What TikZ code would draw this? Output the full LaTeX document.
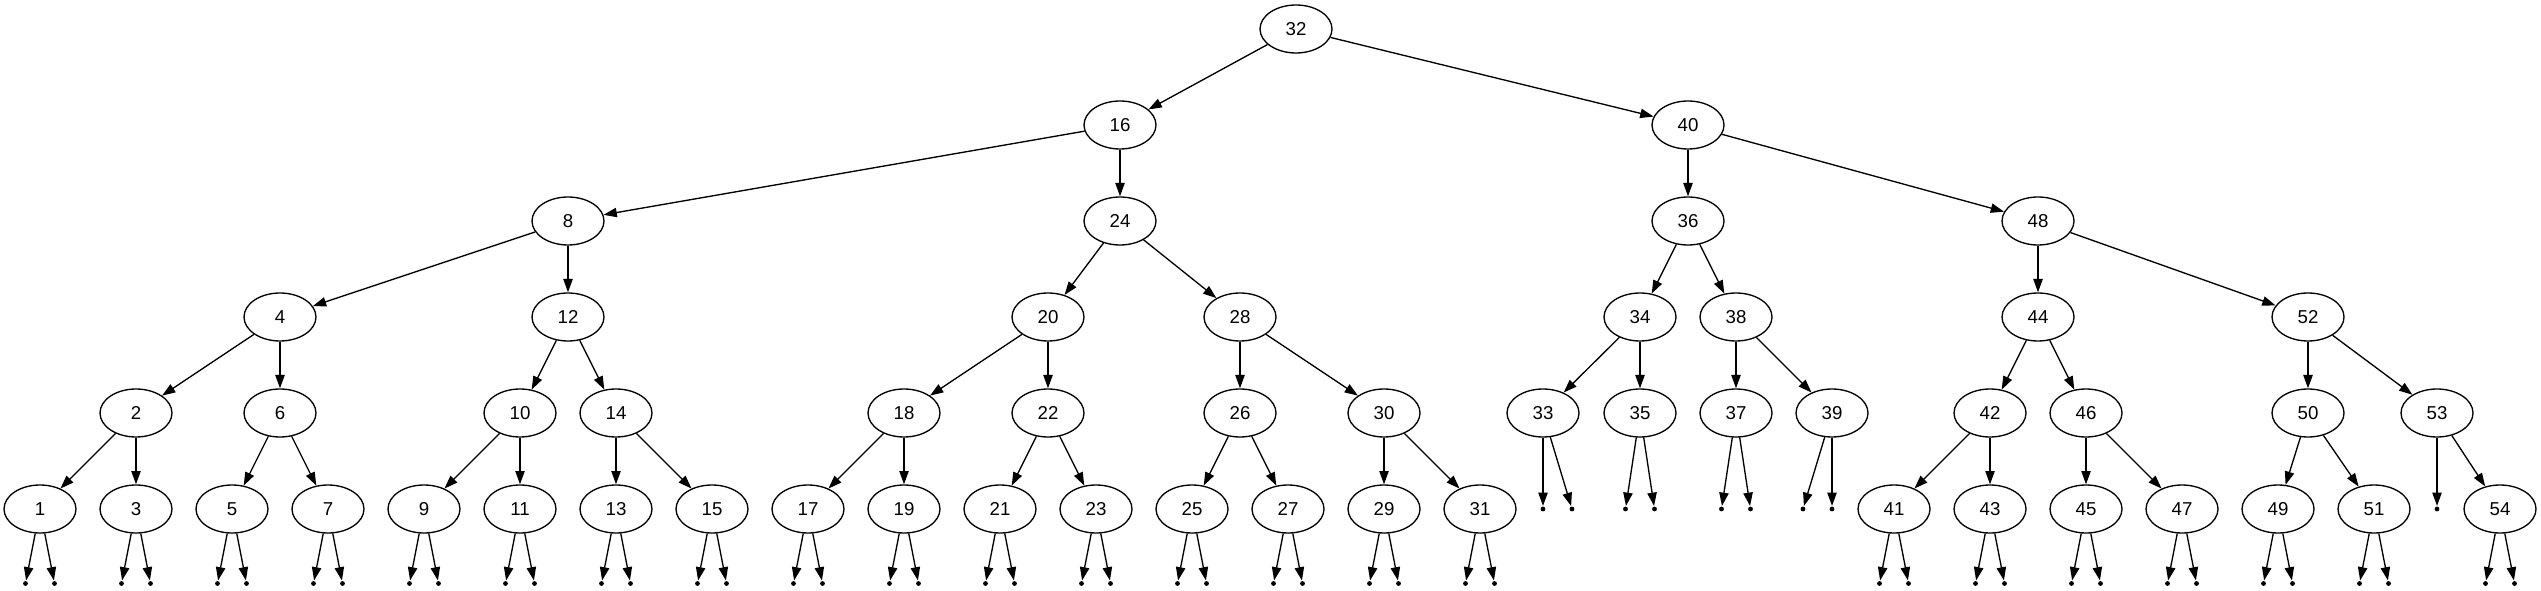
\documentclass[tikz,border=0pt]{standalone}
\usepackage{fontspec}
\setmainfont{Liberation Sans}
\usepackage{tikz}
\usetikzlibrary{arrows.meta}
\usetikzlibrary{shapes}

\begin{document}
\begin{tikzpicture}[->, >={Triangle[length=10pt, width=7pt]}, line width=1pt,
	x=0.75pt, y=-0.75pt,
	bst/.style={ellipse, draw, inner sep=0pt, minimum width=54pt,
				minimum height=36pt, font=\fontsize{14}{16}\selectfont},
	nil/.style={circle, fill=black, draw=none, inner sep=0pt, minimum size=3.6pt},
]
\useasboundingbox (0,0) rectangle (2541,591);
% levels 0 to 3
\node [bst] (n32) at (1296,29) {32};
\node [bst] (n16) at (1120,125) {16};
\node [bst] (n40) at (1688,125) {40};
\node [bst] (n8)  at (568,221) {8};
\node [bst] (n24) at (1120,221) {24};
\node [bst] (n36) at (1688,221) {36};
\node [bst] (n48) at (2038,221) {48};
\node [bst] (n4)  at (280,317) {4};
\node [bst] (n12) at (568,317) {12};
\node [bst] (n20) at (1048,317) {20};
\node [bst] (n28) at (1240,317) {28};
\node [bst] (n34) at (1640,317) {34};
\node [bst] (n38) at (1736,317) {38};
\node [bst] (n44) at (2038,317) {44};
\node [bst] (n52) at (2308,317) {52};
% level 4
\foreach \v/\x in {2/136, 6/280, 10/520, 14/616, 18/904, 22/1048, 26/1240,
		30/1384, 33/1543, 35/1640, 37/1736, 39/1832, 42/1990, 46/2086,
		50/2308, 53/2437}
	\node [bst] (n\v) at (\x,413) {\v};
% empty children on level 5
\foreach \v/\l/\r in {33/1543/1572, 35/1625.5/1654.5, 37/1721.5/1750.5, 39/1803/1832} {
	\node [nil] (n\v-l) at (\l,509) {};
	\node [nil] (n\v-r) at (\r,509) {};
	\draw [->] (n\v) -- (n\v-l);
	\draw [->] (n\v) -- (n\v-r);
}
\node [nil] (n53-l) at (2437,509) {};
\draw [->] (n53) -- (n53-l);
% level 5 and their empty children
\foreach \v/\x in {1/40, 3/136, 5/232, 7/328, 9/424, 11/520, 13/616, 15/712,
		17/808, 19/904, 21/1000, 23/1096, 25/1192, 27/1288, 29/1384, 31/1480,
		41/1894, 43/1990, 45/2086, 47/2182, 49/2278, 51/2374, 54/2500} {
	\node [bst] (n\v) at (\x,509) {\v};
	\node [nil] (n\v-l) at (\x-14.5,583.5) {};
	\node [nil] (n\v-r) at (\x+14.5,583.5) {};
	\draw [->] (n\v) -- (n\v-l);
	\draw [->] (n\v) -- (n\v-r);
}
%
\foreach \p/\c in {32/16, 32/40, 16/8, 16/24, 40/36, 40/48, 8/4, 8/12,
		24/20, 24/28, 36/34, 36/38, 48/44, 48/52, 4/2, 4/6, 12/10, 12/14,
		20/18, 20/22, 28/26, 28/30, 34/33, 34/35, 38/37, 38/39, 44/42,
		44/46, 52/50, 52/53, 2/1, 2/3, 6/5, 6/7, 10/9, 10/11, 14/13, 14/15,
		18/17, 18/19, 22/21, 22/23, 26/25, 26/27, 30/29, 30/31, 42/41,
		42/43, 46/45, 46/47, 50/49, 50/51, 53/54}
	\draw [->] (n\p) -- (n\c);
\end{tikzpicture}
\end{document}
